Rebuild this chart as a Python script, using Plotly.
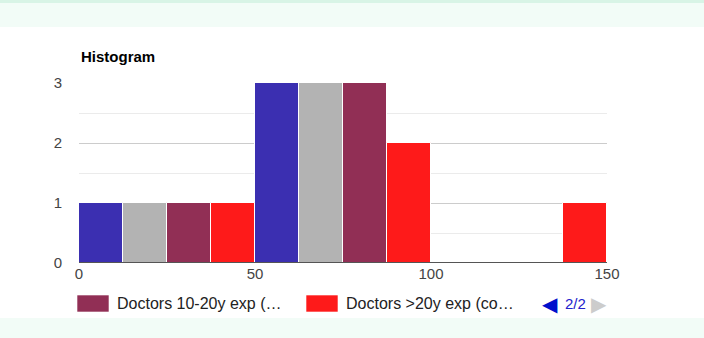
import plotly.graph_objects as go

# Histogram buckets (bucket centres, width 50) and counts per series
bucket_centers = [25, 75, 125]
bucket_width = 50
series_names = [
    "Doctors <5y exp",
    "Doctors 5-10y exp",
    "Doctors 10-20y exp (consultants)",
    "Doctors >20y exp (consultants)",
]
series_counts = [
    [1, 3, 0],
    [1, 3, 0],
    [1, 3, 0],
    [1, 2, 1],
]
series_colors = ["#3b2fb1", "#b3b3b3", "#912f55", "#fe1a1a"]

# Legend page 2 of 2 shows the last two series
legend_labels = ["Doctors 10-20y exp (\u2026", "Doctors >20y exp (co\u2026"]
legend_colors = series_colors[2:]

x_ticks = [0, 50, 100, 150]
y_ticks = [0, 1, 2, 3]

W, H = 704, 338
L, R, T, B = 79, 97, 83, 75
PW, PH = W - L - R, H - T - B

def px_x(px):
    return (px - L) / PW

def px_y(py):
    return (H - B - py) / PH

FONT = "Arial, Liberation Sans, sans-serif"

fig = go.Figure()
for name, counts, color in zip(series_names, series_counts, series_colors):
    fig.add_trace(go.Bar(
        x=bucket_centers, y=counts, name=name,
        marker=dict(color=color, line=dict(color="white", width=1)),
        showlegend=False,
    ))

shapes = [
    # page bands above and below the chart card
    dict(type="rect", xref="paper", yref="paper", x0=px_x(0), x1=px_x(W),
         y0=px_y(27), y1=px_y(0), fillcolor="#f2fcf7", line=dict(width=0), layer="below"),
    dict(type="rect", xref="paper", yref="paper", x0=px_x(0), x1=px_x(W),
         y0=px_y(3), y1=px_y(0), fillcolor="#d8f4e6", line=dict(width=0), layer="below"),
    dict(type="rect", xref="paper", yref="paper", x0=px_x(0), x1=px_x(W),
         y0=px_y(H), y1=px_y(318), fillcolor="#f2fcf7", line=dict(width=0), layer="below"),
    # baseline
    dict(type="line", xref="paper", yref="y", x0=0, x1=1, y0=0, y1=0,
         line=dict(color="#555555", width=2)),
]

annotations = [
    dict(text="<b>Histogram</b>", xref="paper", yref="paper", x=0, y=px_y(56),
         xanchor="left", yanchor="middle", showarrow=False,
         font=dict(family=FONT, size=15, color="#000000")),
]

# legend entries
legend_x = [77, 306]
for lx, label, color in zip(legend_x, legend_labels, legend_colors):
    shapes.append(dict(type="rect", xref="paper", yref="paper",
                       x0=px_x(lx), x1=px_x(lx + 32), y0=px_y(312), y1=px_y(295),
                       fillcolor=color, line=dict(color="rgba(255,255,255,0.6)", width=1)))
    annotations.append(dict(text=label, xref="paper", yref="paper",
                            x=px_x(lx + 38), y=px_y(303.5), xanchor="left", yanchor="middle",
                            showarrow=False, font=dict(family=FONT, size=16, color="#222222")))

# legend pager
annotations += [
    dict(text="\u25c0", xref="paper", yref="paper", x=px_x(550), y=px_y(303.5),
         xanchor="center", yanchor="middle", showarrow=False,
         font=dict(family="DejaVu Sans", size=20, color="#0011cc")),
    dict(text="2/2", xref="paper", yref="paper", x=px_x(575.5), y=px_y(303.5),
         xanchor="center", yanchor="middle", showarrow=False,
         font=dict(family=FONT, size=15, color="#2222cc")),
    dict(text="\u25b6", xref="paper", yref="paper", x=px_x(599), y=px_y(303.5),
         xanchor="center", yanchor="middle", showarrow=False,
         font=dict(family="DejaVu Sans", size=20, color="#cccccc")),
]

fig.update_layout(
    width=W, height=H,
    margin=dict(l=L, r=R, t=T, b=B),
    paper_bgcolor="white", plot_bgcolor="white",
    barmode="group", bargap=0, bargroupgap=0,
    showlegend=False,
    shapes=shapes, annotations=annotations,
    font=dict(family=FONT, size=15, color="#444444"),
    xaxis=dict(range=[0, 150], tickvals=x_ticks, showgrid=False, zeroline=False,
               showline=False, ticks="", tickfont=dict(size=15, color="#444444")),
    yaxis=dict(range=[0, 3], tickvals=y_ticks, showgrid=True, gridcolor="#cccccc",
               gridwidth=1, zeroline=False, showline=False, ticks="",
               ticklabelstandoff=16, tickfont=dict(size=15, color="#444444")),
)
fig.update_yaxes(minor=dict(dtick=0.5, tick0=0, showgrid=True, gridcolor="#ebebeb"))

fig.write_html("out.html")
